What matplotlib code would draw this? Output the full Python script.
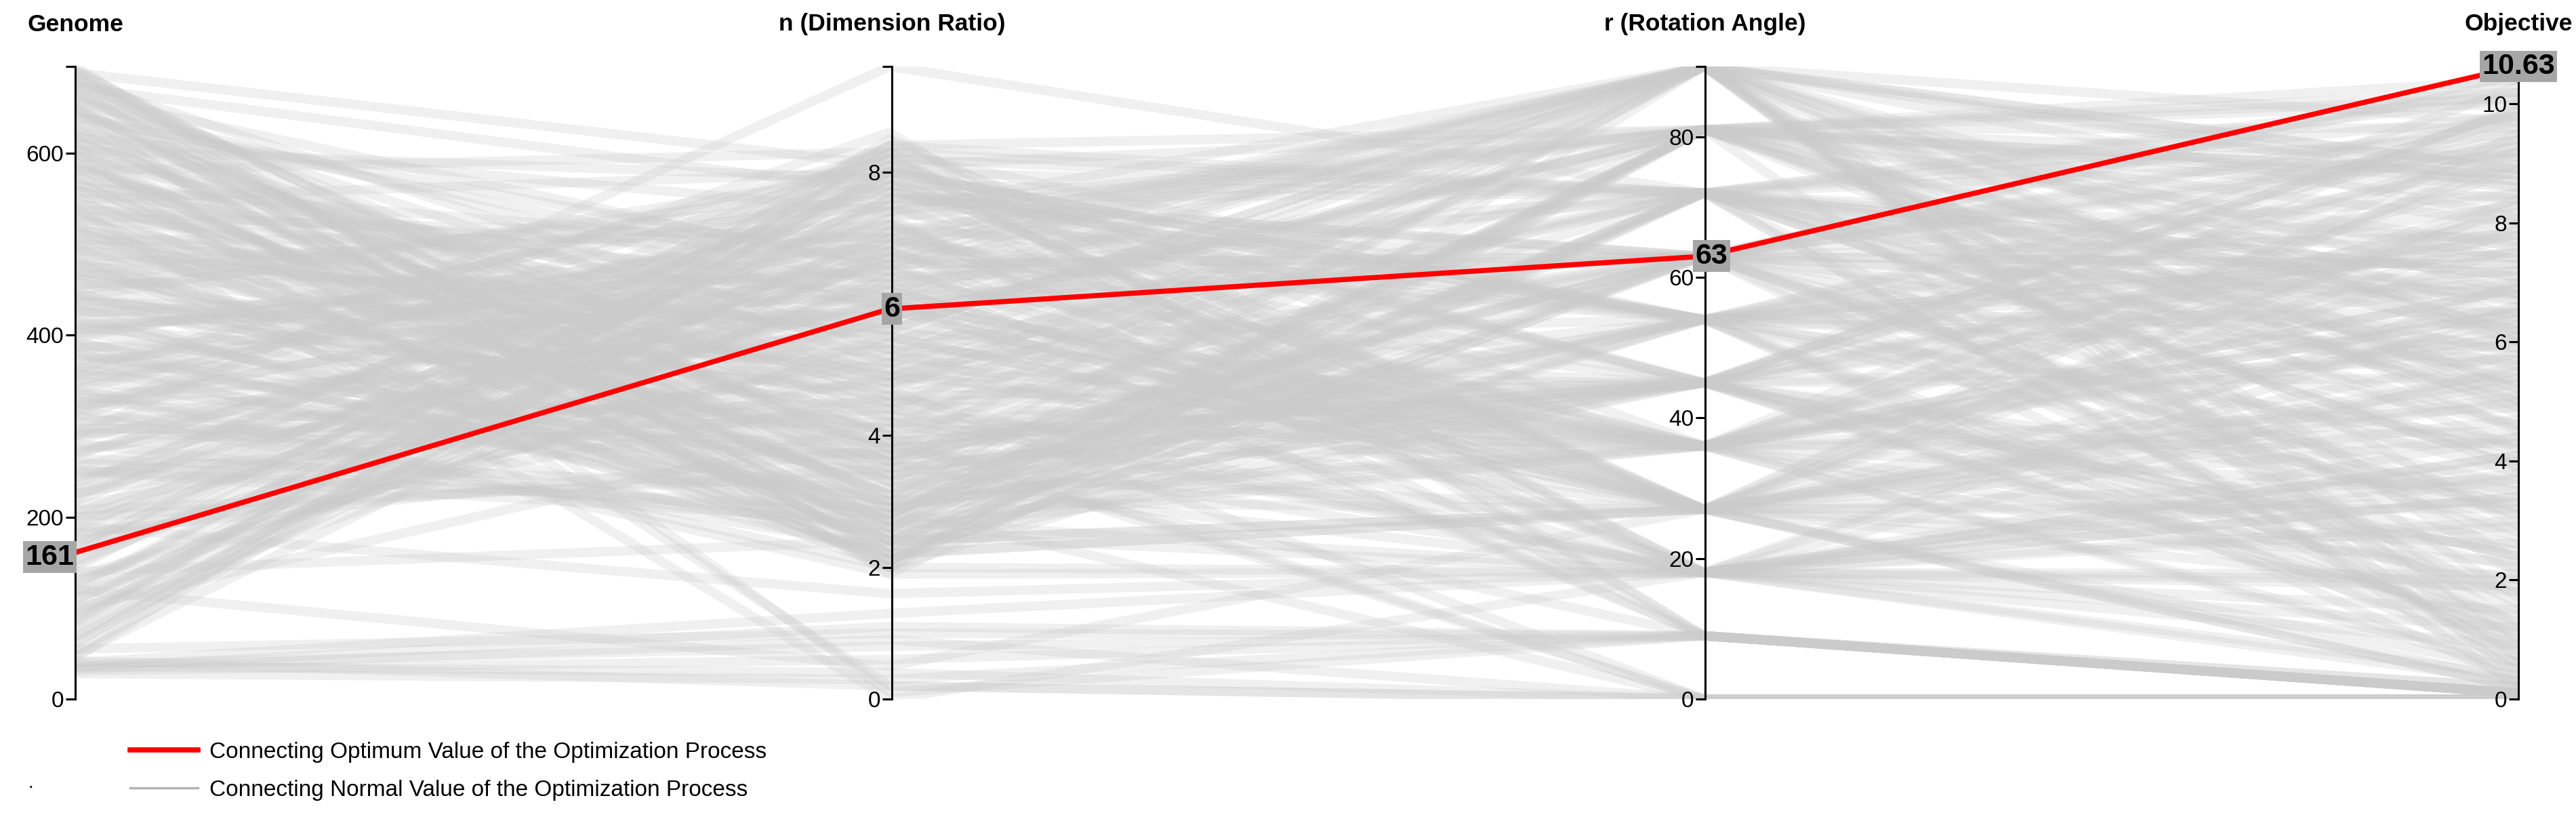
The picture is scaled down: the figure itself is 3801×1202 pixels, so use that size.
import matplotlib
matplotlib.use('Agg')
import matplotlib.pyplot as plt
from matplotlib.lines import Line2D

plt.rcParams['font.family'] = ['Liberation Sans', 'DejaVu Sans']

# titoli degli assi paralleli
axisTitles = ['Genome', 'n (Dimension Ratio)', 'r (Rotation Angle)', 'Objective']
axisMax = [695, 9.6, 90, 10.63]
axisTicks = [[0, 200, 400, 600], [0, 2, 4, 6, 8], [0, 20, 40, 60, 80], [0, 2, 4, 6, 8, 10]]

# valori (una riga per genoma)
genome = [695, 690, 684, 677, 671, 665, 660, 652, 646, 641,
          635, 628, 622, 617, 611, 604, 598, 593, 587, 580,
          574, 569, 563, 688, 672, 655, 638, 620, 603, 585,
          45, 52, 60, 68, 77, 85, 93, 101, 110, 118,
          127, 135, 144, 152, 170, 178, 187, 195, 204, 212,
          221, 230, 238, 247, 255, 264, 272, 281, 289, 298,
          305, 312, 320, 327, 334, 342, 349, 357, 364, 371,
          379, 386, 394, 401, 408, 416, 423, 430, 438, 445,
          453, 460, 467, 475, 482, 490, 497, 504, 512, 519,
          527, 534, 541, 549, 556, 315, 338, 362, 383, 405,
          428, 449, 471, 494, 516, 538, 560, 345, 391, 436,
          480, 525, 572, 612, 648, 680, 140, 200, 260, 100,
          28, 31, 33, 35, 36, 38, 40, 42, 55, 120,
          190, 289, 650, 600, 540,
          70, 82, 96, 108, 123, 131, 148, 159, 166, 174,
          183, 199, 208, 217, 226, 234, 243, 251, 268, 276,
          285, 293, 302, 310, 318, 325, 331, 340, 352, 360,
          367, 375, 388, 397, 404, 412, 419, 426, 434, 441,
          448, 456, 463, 470, 478, 486, 493, 500, 508, 515,
          522, 530, 537, 545, 552, 559, 566, 577, 583, 590,
          596, 607, 614, 625, 632, 643, 657, 663, 668, 675,
          682, 686, 692, 48, 63, 88, 115, 162, 182, 225,
          250, 270, 296, 323, 355, 380, 410, 440, 465, 502]
nRatio = [2.1, 3.4, 2.6, 4.2, 1.9, 3.0, 5.1, 2.4, 3.8, 6.3,
          2.2, 4.6, 2.9, 7.4, 3.3, 2.0, 5.6, 2.7, 4.0, 8.3,
          3.6, 2.3, 6.8, 8.1, 7.7, 5.9, 6.6, 4.8, 7.9, 3.1,
          8.4, 7.6, 8.1, 6.9, 7.2, 8.5, 5.8, 7.9, 6.4, 8.2,
          7.0, 5.4, 8.3, 6.7, 7.5, 4.9, 8.0, 6.1, 7.3, 5.2,
          8.4, 6.6, 7.8, 4.4, 6.2, 3.2, 5.7, 2.6, 6.0, 3.9,
          4.5, 2.3, 6.8, 3.7, 5.3, 2.0, 7.4, 4.1, 2.8, 6.2,
          3.5, 5.9, 2.5, 7.1, 4.7, 3.0, 6.5, 2.2, 5.0, 3.9,
          7.8, 2.7, 4.3, 6.0, 3.3, 5.6, 2.1, 7.0, 4.9, 3.6,
          6.4, 2.4, 5.2, 8.0, 3.1, 8.6, 1.9, 8.2, 2.9, 6.9,
          4.4, 7.5, 3.8, 5.5, 2.6, 6.7, 4.0, 7.2, 3.4, 5.8,
          2.0, 4.8, 6.1, 4.5, 3.7, 5.3, 2.4, 3.5, 2.8, 4.2,
          0.3, 0.6, 0.9, 1.1, 0.4, 0.8, 1.3, 0.2, 1.0, 0.5,
          1.6, 9.6, 0.1, 0.2, 0.0,
          7.7, 8.3, 6.5, 7.1, 8.0, 5.5, 7.6, 6.3, 8.4, 4.6,
          7.0, 6.8, 3.4, 7.9, 5.1, 8.1, 6.0, 2.9, 7.3, 4.8,
          6.7, 3.7, 5.9, 8.2, 2.5, 6.6, 4.3, 7.5, 3.0, 5.4,
          6.9, 2.2, 4.9, 7.7, 3.6, 6.1, 2.8, 5.7, 4.1, 8.0,
          2.4, 6.4, 3.9, 5.0, 7.2, 2.1, 4.5, 6.2, 3.2, 5.5,
          2.6, 7.0, 3.5, 4.7, 2.0, 6.0, 3.1, 2.3, 4.4, 2.7,
          5.3, 2.1, 3.8, 2.5, 4.9, 3.3, 2.2, 6.5, 2.8, 4.0,
          2.4, 3.6, 2.9, 6.8, 7.4, 8.0, 5.9, 7.8, 3.8, 6.6,
          2.7, 7.1, 4.2, 5.6, 8.3, 3.0, 6.3, 4.6, 7.6, 5.1]
rotation = [63, 27, 81, 45, 18, 90, 36, 72, 54, 9,
            27, 63, 45, 81, 18, 54, 90, 36, 72, 27,
            63, 45, 18, 81, 54, 36, 90, 72, 27, 63,
            36, 72, 18, 90, 54, 27, 81, 45, 63, 18,
            90, 36, 72, 54, 27, 81, 45, 63, 9, 36,
            72, 18, 54, 90, 27, 45, 81, 63, 36, 0,
            45, 81, 27, 63, 18, 90, 54, 36, 72, 27,
            45, 81, 18, 63, 90, 54, 36, 72, 27, 45,
            18, 81, 63, 90, 54, 36, 72, 27, 45, 81,
            18, 63, 90, 54, 36, 9, 72, 27, 45, 81,
            18, 63, 90, 54, 36, 72, 0, 27, 45, 81,
            18, 63, 90, 54, 36, 72, 27, 45, 81, 18,
            9, 9, 0, 9, 0, 9, 18, 0, 9, 27,
            18, 72, 9, 0, 18,
            54, 9, 90, 36, 72, 27, 63, 45, 81, 18,
            36, 90, 54, 27, 72, 45, 63, 0, 81, 36,
            90, 54, 27, 72, 45, 63, 18, 81, 36, 90,
            54, 27, 72, 45, 63, 9, 81, 36, 90, 54,
            27, 72, 45, 63, 18, 81, 36, 90, 54, 27,
            72, 45, 63, 0, 81, 36, 90, 54, 27, 72,
            45, 63, 18, 81, 36, 90, 54, 27, 72, 45,
            63, 9, 81, 36, 90, 54, 27, 72, 45, 63,
            18, 81, 36, 90, 54, 27, 72, 45, 63, 81]
objective = [7.8, 3.2, 9.6, 5.4, 2.1, 8.9, 0.6, 6.7, 4.3, 0.1,
             9.2, 5.9, 1.2, 7.4, 3.8, 8.3, 0.9, 6.1, 10.2, 4.7,
             2.8, 9.9, 0.3, 5.2, 7.0, 3.5, 8.6, 1.6, 6.4, 9.4,
             6.2, 9.1, 3.0, 0.4, 7.7, 5.0, 8.8, 2.4, 10.4, 4.1,
             1.0, 6.9, 9.5, 3.6, 0.2, 8.0, 5.7, 7.3, 0.1, 4.5,
             9.8, 2.0, 6.5, 0.7, 8.4, 3.3, 10.1, 5.5, 1.4, 0.0,
             8.1, 4.9, 0.5, 9.3, 6.6, 2.9, 7.5, 10.0, 3.9, 5.8,
             1.8, 8.7, 4.4, 0.8, 9.7, 6.3, 2.5, 7.1, 5.1, 10.3,
             3.4, 0.2, 8.5, 6.0, 1.3, 9.0, 4.6, 7.9, 2.2, 5.3,
             0.4, 10.5, 6.8, 3.1, 8.2, 0.1, 4.0, 9.5, 1.1, 7.6,
             5.6, 2.7, 8.9, 0.6, 6.5, 10.1, 0.0, 3.7, 7.2, 4.8,
             1.9, 9.2, 5.0, 0.3, 8.4, 6.2, 2.3, 9.8, 4.2, 7.0,
             0.1, 0.2, 0.0, 0.1, 0.0, 0.2, 1.5, 0.0, 0.1, 2.6,
             0.9, 6.8, 0.1, 0.0, 1.2,
             5.9, 0.1, 8.7, 0.5, 7.1, 4.4, 9.8, 2.6, 6.3, 2.9,
             8.0, 5.2, 1.0, 7.6, 3.9, 9.3, 6.7, 0.0, 10.0, 2.0,
             6.1, 8.5, 0.3, 5.0, 7.8, 3.1, 3.4, 9.1, 6.9, 1.7,
             4.2, 8.3, 5.6, 0.9, 7.3, 0.1, 10.2, 4.9, 6.4, 9.0,
             3.3, 5.8, 7.9, 1.5, 4.1, 8.8, 6.0, 2.3, 9.6, 5.3,
             0.7, 7.0, 4.6, 0.0, 8.6, 6.6, 1.2, 9.4, 5.4, 7.4,
             2.4, 6.8, 3.7, 10.4, 4.3, 8.1, 5.7, 0.2, 7.7, 3.5,
             9.7, 0.1, 6.2, 8.9, 4.5, 7.2, 1.8, 5.1, 9.9, 3.8,
             4.0, 8.4, 6.5, 2.1, 7.5, 5.5, 0.6, 9.2, 3.2, 6.0]

# soluzione ottima
bestValues = [161, 5.92, 63, 10.63]
bestLabels = ['161', '6', '63', '10.63']

W, H = 3801, 1202
axisX = [111, 1316, 2516, 3716]
yBottom, yTop = 1031, 98

fig = plt.figure(figsize=(W / 100, H / 100), dpi=100)
left = axisX[0] / W
right = axisX[-1] / W
bottom = 1 - yBottom / H
height = (yBottom - yTop) / H

ax = fig.add_axes([left, bottom, right - left, height])
ax.set_xlim(0, 3)
ax.set_ylim(0, 1)
ax.axis('off')

xs = [0, 1, 2, 3]
for i in range(len(genome)):
    row = [genome[i], nRatio[i], rotation[i], objective[i]]
    ys = [row[k] / axisMax[k] for k in range(4)]
    ax.plot(xs, ys, color='#cbcbcb', alpha=0.28, lw=10, solid_capstyle='butt', zorder=1)

bestNorm = [bestValues[k] / axisMax[k] for k in range(4)]
ax.plot(xs, bestNorm, color='#ff0000', lw=5.5, zorder=5, solid_capstyle='butt')

# assi verticali
for k in range(4):
    vax = fig.add_axes([axisX[k] / W, bottom, 0.0001, height])
    vax.patch.set_visible(False)
    vax.set_xlim(0, 1)
    vax.set_ylim(0, axisMax[k])
    for s in ['right', 'top', 'bottom']:
        vax.spines[s].set_visible(False)
    vax.spines['left'].set_linewidth(2.2)
    vax.set_xticks([])
    vax.set_yticks(axisTicks[k] + [axisMax[k]])
    tickLabels = [str(t) for t in axisTicks[k]] + ['']
    if k == 1:
        tickLabels[3] = ''  # coperto dall'etichetta del valore ottimo
    vax.set_yticklabels(tickLabels)
    vax.tick_params(axis='y', length=10, width=2.2, pad=2, labelsize=24)
    if k == 0:
        vax.annotate(bestLabels[k], xy=(0, bestValues[k]), xytext=(-1, -5), textcoords='offset points',
                     ha='right', va='center', fontsize=31, fontweight='bold', annotation_clip=False,
                     bbox=dict(boxstyle='square,pad=0.08', fc='#a6a6a6', ec='none'))
    elif k == 2:
        vax.annotate(bestLabels[k], xy=(0, bestValues[k]), xytext=(7, 0), textcoords='offset points',
                     ha='center', va='center', fontsize=31, fontweight='bold', annotation_clip=False,
                     bbox=dict(boxstyle='square,pad=0.08', fc='#a6a6a6', ec='none'))
    else:
        vax.annotate(bestLabels[k], xy=(0, bestValues[k]), xytext=(0, 0), textcoords='offset points',
                     ha='center', va='center', fontsize=31, fontweight='bold', annotation_clip=False,
                     bbox=dict(boxstyle='square,pad=0.08', fc='#a6a6a6', ec='none'))
    fig.text(axisX[k] / W, 1 - 36 / H, axisTitles[k], ha='center', va='center', fontsize=25.5, fontweight='bold')

handles = [Line2D([], [], color='#ff0000', lw=5.5), Line2D([], [], color='#b3b3b3', lw=2.5)]
labels = ['Connecting Optimum Value of the Optimization Process', 'Connecting Normal Value of the Optimization Process']
fig.legend(handles, labels, loc='upper left', bbox_to_anchor=(192 / W, 1 - 1094 / H), frameon=False,
           fontsize=24, handlelength=3.0, handletextpad=0.5, labelspacing=0.75, borderpad=0, borderaxespad=0)
fig.text(45 / W, 1 - 1168 / H, '.', ha='center', va='bottom', fontsize=20)

plt.savefig('out.png', dpi=100)
